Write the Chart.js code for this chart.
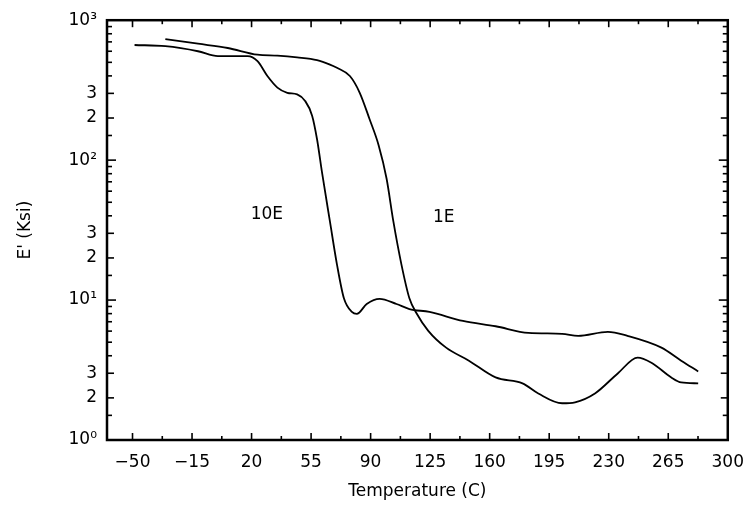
<!DOCTYPE html>
<html>
<head>
<meta charset="utf-8">
<script src="https://cdn.jsdelivr.net/npm/chart.js@4.4.0/dist/chart.umd.min.js"></script>
<style>
  html, body { margin: 0; padding: 0; background: #fff; }
  #wrap { width: 756px; height: 508px; }
</style>
</head>
<body>
<div id="wrap"><canvas id="modulusChart"></canvas></div>
<script>
// Storage modulus E' (Ksi) against temperature (C), two cure levels
const temp10E = [-48.8, -30.7, -11.5, 0.2, 6, 17.7, 23.5, 29.3, 35.2, 41, 46.8, 51.5, 55.6, 58.5, 61.4, 66.1, 70.2, 74.3, 79, 81.9, 87.7, 95.3, 105.2, 112.8, 124.6, 144.3, 163.5, 182.8, 202.6, 212, 229.5, 241, 261, 272.6, 282.6];
const mod10E  = [665, 652, 600, 553, 553, 553, 509, 399, 330, 303, 295, 265, 208, 141, 82, 36.3, 18, 10.3, 8.22, 7.96, 9.37, 10.2, 9.37, 8.63, 8.22, 7.1, 6.5, 5.83, 5.74, 5.55, 5.93, 5.55, 4.57, 3.69, 3.09];

const temp1E = [-30.7, -11.5, 6, 23.5, 35.2, 46.8, 58.5, 66.1, 70.2, 77.8, 83.6, 89.4, 94.7, 99.4, 103.4, 108.1, 112.8, 116.9, 123.9, 134.4, 147.8, 163.5, 179.3, 188.6, 202.6, 210.2, 221.9, 235.3, 247, 255.1, 266.8, 272.6, 282.6];
const mod1E  = [733, 679, 633, 567, 558, 542, 518, 482, 457, 399, 303, 196, 128, 73.6, 36.3, 18, 10.3, 8.09, 6.03, 4.57, 3.69, 2.8, 2.54, 2.15, 1.83, 1.86, 2.15, 2.99, 3.88, 3.57, 2.8, 2.58, 2.54];

const xTicks = [-50, -15, 20, 55, 90, 125, 160, 195, 230, 265, 300];
const yTicks = [1, 2, 3, 10, 20, 30, 100, 200, 300, 1000];
const yTickLabels = ['10⁰', '2', '3', '10¹', '2', '3', '10²', '2', '3', '10³'];

// curve names written inside the plot
const curveNames = ['10E', '1E'];
const curveNameT = [29, 133];
const curveNameE = [41, 39];

const FONT = "'DejaVu Sans', sans-serif";

const toPoints = (xs, ys) => xs.map((t, i) => ({ x: t, y: ys[i] }));

// box around the plot, inward tick marks on all four sides, curve names
const frameAndTicks = {
  id: 'frameAndTicks',
  afterDatasetsDraw(chart) {
    const { ctx, chartArea: a, scales: { x, y } } = chart;
    ctx.save();
    ctx.strokeStyle = '#000';
    ctx.lineWidth = 2.5;
    ctx.strokeRect(a.left, a.top, a.right - a.left, a.bottom - a.top);

    const seg = (x1, y1, x2, y2) => {
      ctx.beginPath(); ctx.moveTo(x1, y1); ctx.lineTo(x2, y2); ctx.stroke();
    };
    ctx.lineWidth = 1.6;

    // x: majors at the labelled values, minors halfway between
    xTicks.forEach((v, i) => {
      const px = x.getPixelForValue(v);
      seg(px, a.bottom, px, a.bottom - 7);
      seg(px, a.top, px, a.top + 7);
      if (i < xTicks.length - 1) {
        const mx = x.getPixelForValue((v + xTicks[i + 1]) / 2);
        seg(mx, a.bottom, mx, a.bottom - 4);
        seg(mx, a.top, mx, a.top + 4);
      }
    });

    // y: decades long, labelled 2/3 medium, rest short
    [1, 10, 100].forEach(dec => {
      [1, 1.5, 2, 3, 4, 5, 6, 7, 8, 9].forEach(m => {
        const py = y.getPixelForValue(dec * m);
        const len = m === 1 ? 9 : (m === 2 || m === 3 ? 7 : 5);
        seg(a.left, py, a.left + len, py);
        seg(a.right, py, a.right - len, py);
      });
    });

    ctx.fillStyle = '#000';
    ctx.font = '17px ' + FONT;
    ctx.textAlign = 'center';
    ctx.textBaseline = 'middle';
    curveNames.forEach((name, i) => {
      ctx.fillText(name, x.getPixelForValue(curveNameT[i]), y.getPixelForValue(curveNameE[i]));
    });
    ctx.restore();
  }
};

new Chart(document.getElementById('modulusChart'), {
  type: 'line',
  data: {
    datasets: [
      {
        label: '10E',
        data: toPoints(temp10E, mod10E),
        borderColor: '#000',
        borderWidth: 1.8,
        pointRadius: 0,
        fill: false,
        cubicInterpolationMode: 'monotone'
      },
      {
        label: '1E',
        data: toPoints(temp1E, mod1E),
        borderColor: '#000',
        borderWidth: 1.8,
        pointRadius: 0,
        fill: false,
        cubicInterpolationMode: 'monotone'
      }
    ]
  },
  options: {
    responsive: true,
    maintainAspectRatio: false,
    animation: false,
    layout: { padding: { left: 0, top: 17, right: 21, bottom: 0 } },
    plugins: {
      legend: { display: false },
      tooltip: { enabled: false }
    },
    scales: {
      x: {
        type: 'linear',
        min: -65,
        max: 300,
        afterBuildTicks: s => { s.ticks = xTicks.map(v => ({ value: v })); },
        afterFit: s => { s.height = 68; },
        grid: { display: false, drawTicks: false },
        border: { display: false },
        ticks: {
          padding: 12,
          maxRotation: 0,
          autoSkip: false,
          color: '#000',
          font: { family: FONT, size: 17 },
          callback: v => (v < 0 ? '−' + Math.abs(v) : String(v))
        },
        title: {
          display: true,
          text: 'Temperature (C)',
          color: '#000',
          font: { family: FONT, size: 17 },
          padding: { top: 0, bottom: 6 }
        }
      },
      y: {
        type: 'logarithmic',
        min: 1,
        max: 1000,
        afterBuildTicks: s => { s.ticks = yTicks.map(v => ({ value: v })); },
        afterFit: s => { s.width = 107; },
        grid: { display: false, drawTicks: false },
        border: { display: false },
        ticks: {
          padding: 10,
          autoSkip: false,
          color: '#000',
          font: { family: FONT, size: 17 },
          callback: v => yTickLabels[yTicks.indexOf(v)]
        },
        title: {
          display: true,
          text: "E' (Ksi)",
          color: '#000',
          font: { family: FONT, size: 17 },
          padding: { top: 15, bottom: 0 }
        }
      }
    }
  },
  plugins: [frameAndTicks]
});
</script>
</body>
</html>
